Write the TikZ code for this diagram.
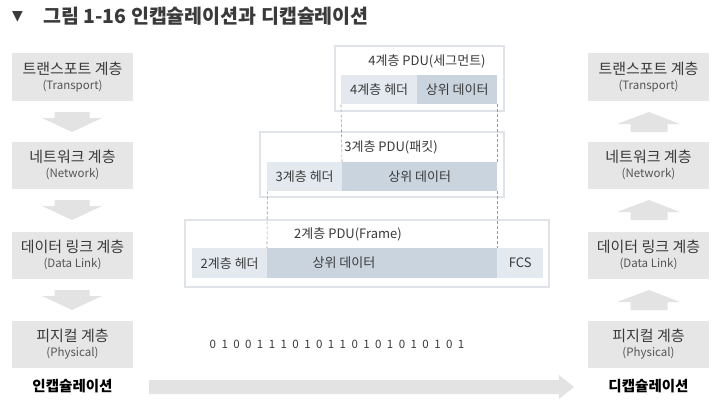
\documentclass[tikz,border=0pt]{standalone}
\usepackage{fontspec}
\setmainfont{Noto Sans CJK KR}
\newfontfamily\dejavu{DejaVu Sans}
\definecolor{boxgray}{HTML}{E6E6E6}
\definecolor{arrgray}{HTML}{E3E3E3}
\definecolor{pdubord}{HTML}{E0E4E8}
\definecolor{hdrcol}{HTML}{E4E9EF}
\definecolor{datacol}{HTML}{C9D4DF}
\definecolor{txt}{HTML}{3A3A3A}
\definecolor{subtxt}{HTML}{555555}
\definecolor{dashcol}{HTML}{9A9A9A}
\newcommand\bt[1]{\makebox[11.82pt]{#1}}
\begin{document}
\begin{tikzpicture}[x=1pt,y=-1pt,
  layerbox/.style={fill=boxgray,draw=none,minimum width=121pt,minimum height=47pt,inner sep=0pt,align=center,text=txt},
  pdubox/.style={draw=pdubord,line width=2pt,fill=white},
  cell/.style={draw=none,inner sep=0pt,anchor=north west,text=txt,font=\fontsize{13}{15}\selectfont},
  hdr/.style={cell,fill=hdrcol},
  dat/.style={cell,fill=datacol},
  pdutitle/.style={text=txt,font=\fontsize{13}{15}\selectfont,inner sep=0pt},
  guide/.style={draw=dashcol,dashed,line width=0.6pt,dash pattern=on 3pt off 2pt},
  fatarrow/.style={fill=arrgray,draw=none},
  endlabel/.style={font=\fontsize{14.5}{17}\selectfont\bfseries,text=black,inner sep=0pt}
]
\useasboundingbox (0,0) rectangle (722,412);

% title
\node[anchor=west,inner sep=0pt,text=txt] (tri) at (12,17) {\dejavu\fontsize{14}{16}\selectfont ▼};
\node[anchor=west,inner sep=0pt,text=txt,font=\fontsize{19.5}{22}\selectfont\bfseries] (title) at (43,16) {그림 1-16 인캡슐레이션과 디캡슐레이션};

% layer text macro
\newcommand\layertext[2]{{\fontsize{15}{17}\selectfont #1}\\[3pt]{\color{subtxt}\fontsize{11.5}{13}\selectfont #2}}

% left stack
\node[layerbox] (lt) at (72.5,77) {\layertext{트랜스포트 계층}{(Transport)}};
\node[layerbox] (ln) at (72.5,165) {\layertext{네트워크 계층}{(Network)}};
\node[layerbox] (ld) at (72.5,255) {\layertext{데이터 링크 계층}{(Data Link)}};
\node[layerbox] (lp) at (72.5,344) {\layertext{피지컬 계층}{(Physical)}};

% right stack
\node[layerbox] (rt) at (648.5,77) {\layertext{트랜스포트 계층}{(Transport)}};
\node[layerbox] (rn) at (648.5,165) {\layertext{네트워크 계층}{(Network)}};
\node[layerbox] (rd) at (648.5,255) {\layertext{데이터 링크 계층}{(Data Link)}};
\node[layerbox] (rp) at (648.5,344) {\layertext{피지컬 계층}{(Physical)}};

% down arrows (left)
\foreach \t in {112,200,290}{
  \fill[fatarrow] (54.5,\t) -- (89.5,\t) -- (89.5,\t+6) -- (102,\t+6) -- (72,\t+20) -- (42,\t+6) -- (54.5,\t+6) -- cycle;
}
% up arrows (right)
\foreach \t in {112,200,290}{
  \fill[fatarrow] (649,\t) -- (680,\t+12) -- (667.5,\t+12) -- (667.5,\t+20) -- (630.5,\t+20) -- (630.5,\t+12) -- (617,\t+12) -- cycle;
}

% PDU 4
\draw[pdubox] (335,46) rectangle (504,111);
\node[pdutitle] (t4) at (427,61) {4계층 PDU(세그먼트)};
\node[hdr,minimum width=76pt,minimum height=29pt] (h4) at (341,75) {4계층 헤더};
\node[dat,minimum width=80pt,minimum height=29pt] (d4) at (417,75) {상위 데이터};

% PDU 3
\draw[pdubox] (260,132) rectangle (504,197);
\node[pdutitle] (t3) at (391,147) {3계층 PDU(패킷)};
\node[hdr,minimum width=75pt,minimum height=29pt] (h3) at (267,162) {3계층 헤더};
\node[dat,minimum width=155pt,minimum height=29pt] (d3) at (342,162) {상위 데이터};

% PDU 2
\draw[pdubox] (185,220) rectangle (549,287);
\node[pdutitle] (t2) at (348,234) {2계층 PDU(Frame)};
\node[hdr,minimum width=75pt,minimum height=30pt] (h2) at (192,248) {2계층 헤더};
\node[dat,minimum width=230pt,minimum height=30pt] (d2) at (267,248) {};
\node[pdutitle] (d2t) at (344,263) {상위 데이터};
\node[hdr,minimum width=46pt,minimum height=30pt] (f2) at (497,248) {FCS};

% dashed guides
\draw[guide] (h4.south west) -- (d3.north west);
\draw[guide] (d4.south east) -- (d3.north east);
\draw[guide] (h3.south east) ++(-75,0) coordinate (g1) (g1) -- (d2.north west);
\draw[guide] (d3.south east) -- (d2.north east);

% bits
\node[text=txt,inner sep=0pt,font=\fontsize{11.5}{13}\selectfont] (bits) at (337,344) {\bt0\bt1\bt0\bt0\bt1\bt1\bt1\bt0\bt1\bt0\bt1\bt1\bt0\bt1\bt0\bt1\bt0\bt1\bt0\bt1\bt0\bt1};

% bottom big arrow
\fill[fatarrow] (149,380) -- (559,380) -- (559,375) -- (574,387) -- (559,399) -- (559,394) -- (149,394) -- cycle;

% bottom labels
\node[endlabel] (enc) at (72.5,386) {인캡슐레이션};
\node[endlabel] (dec) at (648.5,386) {디캡슐레이션};
\end{tikzpicture}
\end{document}
